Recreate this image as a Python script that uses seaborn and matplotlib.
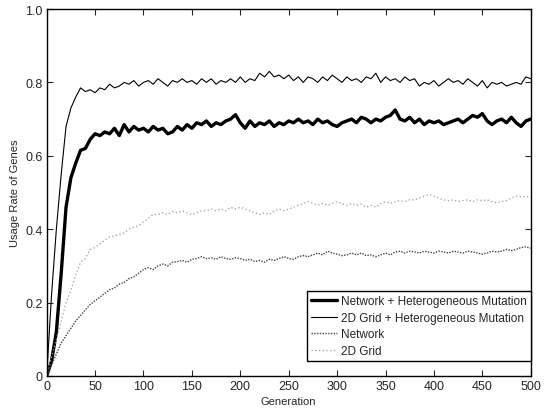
import numpy as np
import pandas as pd
import seaborn as sns
import matplotlib
matplotlib.use("Agg")
import matplotlib.pyplot as plt

## DATA (every 5 generations)
generation = list(range(0, 501, 5))

net_hetero = [0.0, 0.04, 0.12, 0.28, 0.46, 0.54, 0.58, 0.615, 0.62, 0.645,
              0.66, 0.655, 0.665, 0.66, 0.675, 0.655, 0.685, 0.665, 0.68, 0.67,
              0.675, 0.665, 0.68, 0.67, 0.675, 0.66, 0.665, 0.68, 0.67, 0.685,
              0.675, 0.69, 0.685, 0.695, 0.68, 0.69, 0.685, 0.695, 0.70, 0.712,
              0.69, 0.675, 0.695, 0.68, 0.69, 0.685, 0.695, 0.68, 0.69, 0.685,
              0.695, 0.69, 0.70, 0.69, 0.695, 0.685, 0.70, 0.69, 0.695, 0.685,
              0.68, 0.69, 0.695, 0.70, 0.69, 0.705, 0.70, 0.69, 0.70, 0.695,
              0.705, 0.71, 0.725, 0.70, 0.695, 0.705, 0.69, 0.70, 0.685, 0.695,
              0.69, 0.695, 0.685, 0.69, 0.695, 0.70, 0.69, 0.70, 0.71, 0.705,
              0.715, 0.695, 0.685, 0.695, 0.70, 0.69, 0.705, 0.69, 0.68, 0.695,
              0.70]

grid_hetero = [0.0, 0.22, 0.40, 0.55, 0.68, 0.73, 0.76, 0.785, 0.775, 0.78,
               0.772, 0.785, 0.78, 0.795, 0.785, 0.79, 0.80, 0.795, 0.805, 0.79,
               0.80, 0.805, 0.795, 0.81, 0.80, 0.79, 0.805, 0.80, 0.81, 0.80,
               0.805, 0.795, 0.81, 0.80, 0.81, 0.795, 0.805, 0.80, 0.81, 0.80,
               0.815, 0.80, 0.81, 0.805, 0.825, 0.815, 0.83, 0.815, 0.82, 0.81,
               0.82, 0.805, 0.815, 0.80, 0.815, 0.81, 0.80, 0.815, 0.805, 0.82,
               0.81, 0.80, 0.815, 0.805, 0.81, 0.80, 0.815, 0.81, 0.825, 0.80,
               0.815, 0.805, 0.81, 0.80, 0.815, 0.805, 0.81, 0.79, 0.80, 0.795,
               0.805, 0.79, 0.80, 0.81, 0.80, 0.805, 0.795, 0.81, 0.80, 0.79,
               0.805, 0.785, 0.80, 0.795, 0.80, 0.79, 0.795, 0.80, 0.795, 0.815,
               0.81]

network = [0.0, 0.03, 0.06, 0.09, 0.11, 0.13, 0.15, 0.165, 0.18, 0.195,
           0.205, 0.215, 0.225, 0.235, 0.24, 0.25, 0.255, 0.265, 0.27, 0.28,
           0.29, 0.295, 0.29, 0.30, 0.305, 0.30, 0.31, 0.312, 0.315, 0.31,
           0.318, 0.32, 0.325, 0.32, 0.322, 0.318, 0.325, 0.32, 0.318, 0.322,
           0.32, 0.315, 0.318, 0.312, 0.315, 0.31, 0.318, 0.315, 0.32, 0.325,
           0.32, 0.318, 0.325, 0.328, 0.325, 0.33, 0.335, 0.33, 0.34, 0.335,
           0.332, 0.328, 0.33, 0.335, 0.33, 0.335, 0.328, 0.33, 0.325, 0.33,
           0.335, 0.33, 0.338, 0.34, 0.335, 0.34, 0.338, 0.335, 0.34, 0.338,
           0.335, 0.34, 0.338, 0.335, 0.34, 0.338, 0.335, 0.34, 0.338, 0.335,
           0.332, 0.335, 0.34, 0.338, 0.34, 0.345, 0.342, 0.345, 0.35, 0.352,
           0.348]

grid_2d = [0.0, 0.05, 0.10, 0.15, 0.20, 0.235, 0.275, 0.31, 0.32, 0.345,
           0.35, 0.36, 0.37, 0.38, 0.382, 0.385, 0.39, 0.40, 0.405, 0.41,
           0.42, 0.43, 0.44, 0.44, 0.445, 0.44, 0.448, 0.445, 0.45, 0.445,
           0.44, 0.445, 0.45, 0.45, 0.455, 0.45, 0.455, 0.45, 0.46, 0.455,
           0.46, 0.455, 0.45, 0.445, 0.44, 0.445, 0.44, 0.45, 0.455, 0.45,
           0.455, 0.46, 0.465, 0.47, 0.475, 0.47, 0.465, 0.47, 0.465, 0.47,
           0.475, 0.47, 0.465, 0.47, 0.465, 0.468, 0.46, 0.465, 0.46, 0.47,
           0.475, 0.47, 0.475, 0.478, 0.475, 0.48, 0.48, 0.485, 0.49, 0.495,
           0.49, 0.485, 0.48, 0.478, 0.48, 0.475, 0.478, 0.48, 0.475, 0.48,
           0.478, 0.48, 0.475, 0.472, 0.475, 0.478, 0.485, 0.49, 0.488, 0.49,
           0.485]

labels = ["Network + Heterogeneous Mutation", "2D Grid + Heterogeneous Mutation",
          "Network", "2D Grid"]

## STYLE
sns.set_style("ticks")
plt.rcParams["font.family"] = ["Liberation Sans", "DejaVu Sans"]

fig = plt.figure(figsize=(5.44, 4.10), dpi=100)
ax = fig.add_axes([0.0858, 0.0805, 0.8898, 0.8951])

## PLOT
sns.lineplot(x=generation, y=net_hetero, ax=ax, color="black", linewidth=2.4,
             label=labels[0])
sns.lineplot(x=generation, y=grid_hetero, ax=ax, color="black", linewidth=0.8,
             label=labels[1])
sns.lineplot(x=generation, y=network, ax=ax, color="#444444", linewidth=1.0,
             linestyle=(0, (1, 1)), label=labels[2])
sns.lineplot(x=generation, y=grid_2d, ax=ax, color="#999999", linewidth=0.9,
             linestyle=(0, (1, 2)), label=labels[3])

## AXES
ax.set_xlim(0, 500)
ax.set_ylim(0, 1)
ax.set_xticks(range(0, 501, 50))
ax.set_yticks([0, 0.2, 0.4, 0.6, 0.8, 1.0])
ax.set_yticklabels(["0", "0.2", "0.4", "0.6", "0.8", "1.0"])
ax.tick_params(direction="in", top=True, right=True, labelsize=9, length=4,
               width=0.8, pad=3)
for sp in ax.spines.values():
    sp.set_visible(True)
    sp.set_linewidth(1.0)
    sp.set_color("black")
ax.set_xlabel("Generation", fontsize=8, labelpad=3)
ax.set_ylabel("Usage Rate of Genes", fontsize=8, labelpad=4)

leg = ax.legend(loc="lower right", bbox_to_anchor=(1.0, 0.04), fontsize=8.5,
                frameon=True, fancybox=False, framealpha=1, edgecolor="black",
                borderpad=0.35, labelspacing=0.4, handlelength=2.2,
                handletextpad=0.3, borderaxespad=0)
leg.get_frame().set_linewidth(1.0)

fig.savefig("out.png", dpi=100)
